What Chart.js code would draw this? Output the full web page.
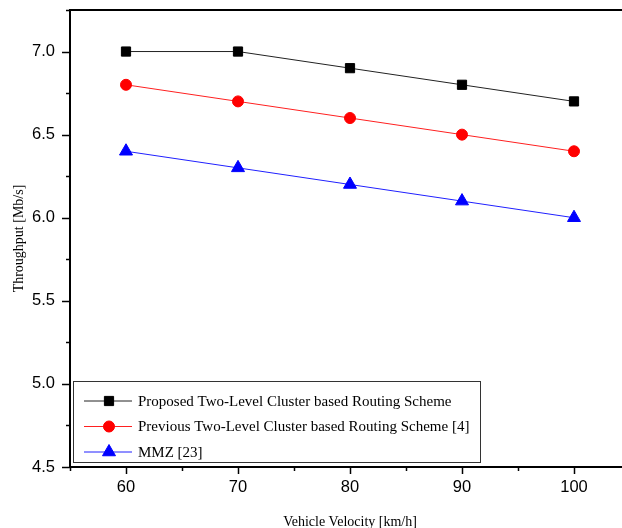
<!DOCTYPE html>
<html>
<head>
<meta charset="utf-8">
<script src="https://cdn.jsdelivr.net/npm/chart.js@4/dist/chart.umd.min.js"></script>
<style>
  html, body { margin: 0; padding: 0; background: #fff; overflow: hidden; }
  #wrap { width: 640px; height: 528px; }
</style>
</head>
<body>
<div id="wrap"><canvas id="chart" width="640" height="528"></canvas></div>
<script>
// Chart data
const velocities = [60, 70, 80, 90, 100];
const proposed = [7.0, 7.0, 6.9, 6.8, 6.7];
const previous = [6.8, 6.7, 6.6, 6.5, 6.4];
const mmz = [6.4, 6.3, 6.2, 6.1, 6.0];
const seriesNames = [
  "Proposed Two-Level Cluster based Routing Scheme",
  "Previous Two-Level Cluster based Routing Scheme [4]",
  "MMZ [23]"
];
const xMajorTicks = [60, 70, 80, 90, 100];
const yMajorTicks = [4.5, 5.0, 5.5, 6.0, 6.5, 7.0];

const tickFont = { family: "'Liberation Sans', Arial, sans-serif", size: 16.5 };
const titleFont = { family: "'Liberation Serif', 'Times New Roman', serif", size: 14 };

function toPoints(ys) {
  return velocities.map((v, i) => ({ x: v, y: ys[i] }));
}

// Outward tick marks (major + minor), top frame line
const axisTicksPlugin = {
  id: "axisTicks",
  afterDraw(chart) {
    const ctx = chart.ctx;
    const area = chart.chartArea;
    const xs = chart.scales.x;
    const ys = chart.scales.y;
    ctx.save();
    ctx.strokeStyle = "#000";
    ctx.lineWidth = 2;
    // top frame
    ctx.beginPath();
    ctx.moveTo(area.left - 1, area.top);
    ctx.lineTo(area.right + 1, area.top);
    ctx.stroke();
    ctx.lineWidth = 1.5;
    xs.ticks.forEach((t) => {
      const px = Math.round(xs.getPixelForValue(t.value)) + 0.5;
      const len = xMajorTicks.includes(t.value) ? 7 : 4;
      ctx.beginPath();
      ctx.moveTo(px, area.bottom);
      ctx.lineTo(px, area.bottom + len);
      ctx.stroke();
    });
    ys.ticks.forEach((t) => {
      const py = Math.round(ys.getPixelForValue(t.value)) + 0.5;
      const major = yMajorTicks.some((m) => Math.abs(m - t.value) < 1e-6);
      const len = major ? 8 : 4;
      ctx.beginPath();
      ctx.moveTo(area.left, py);
      ctx.lineTo(area.left - len, py);
      ctx.stroke();
    });
    ctx.restore();
  }
};

// Framed legend inside the plot area
const boxLegendPlugin = {
  id: "boxLegend",
  afterDraw(chart) {
    const ctx = chart.ctx;
    const area = chart.chartArea;
    const left = area.left + 3;
    const top = area.bottom - 86;
    const width = 407;
    const height = 81;
    ctx.save();
    ctx.fillStyle = "#fff";
    ctx.fillRect(left, top, width, height);
    ctx.strokeStyle = "#333";
    ctx.lineWidth = 1;
    ctx.strokeRect(left + 0.5, top + 0.5, width, height);
    chart.data.datasets.forEach((ds, i) => {
      const y = top + 20 + i * 25.5;
      ctx.strokeStyle = ds.borderColor;
      ctx.lineWidth = 1;
      ctx.beginPath();
      ctx.moveTo(left + 11, y);
      ctx.lineTo(left + 59, y);
      ctx.stroke();
      ctx.fillStyle = ds.pointBackgroundColor;
      ctx.strokeStyle = ds.pointBorderColor;
      Chart.helpers.drawPoint(ctx, {
        pointStyle: ds.pointStyle,
        radius: ds.pointRadius,
        rotation: 0,
        borderWidth: 1
      }, left + 36, y);
      ctx.fillStyle = "#000";
      ctx.font = "15px 'Liberation Serif', 'Times New Roman', serif";
      ctx.textBaseline = "middle";
      ctx.textAlign = "left";
      ctx.fillText(ds.label, left + 65, y + 1);
    });
    ctx.restore();
  }
};

new Chart(document.getElementById("chart"), {
  type: "line",
  data: {
    datasets: [
      {
        label: seriesNames[0],
        data: toPoints(proposed),
        borderColor: "#222",
        borderWidth: 1,
        pointStyle: "rect",
        pointRadius: 6.5,
        pointBackgroundColor: "#000",
        pointBorderColor: "#000"
      },
      {
        label: seriesNames[1],
        data: toPoints(previous),
        borderColor: "#ff2020",
        borderWidth: 1,
        pointStyle: "circle",
        pointRadius: 5.5,
        pointBackgroundColor: "#ff0000",
        pointBorderColor: "#ff0000"
      },
      {
        label: seriesNames[2],
        data: toPoints(mmz),
        borderColor: "#2020ff",
        borderWidth: 1,
        pointStyle: "triangle",
        pointRadius: 7.5,
        pointBackgroundColor: "#0000ff",
        pointBorderColor: "#0000ff"
      }
    ]
  },
  options: {
    responsive: false,
    animation: false,
    layout: { padding: { top: 10, right: 10, left: 0, bottom: 0 } },
    plugins: {
      legend: { display: false },
      tooltip: { enabled: false }
    },
    scales: {
      x: {
        type: "linear",
        min: 55,
        max: 105,
        afterFit(scale) {
          scale.height = 61;
          scale.paddingLeft = 0;
          scale.paddingRight = 0;
        },
        grid: { display: false, drawTicks: false },
        border: { display: true, color: "#000", width: 2 },
        ticks: {
          stepSize: 5,
          color: "#000",
          font: tickFont,
          padding: 11,
          maxRotation: 0,
          autoSkip: false,
          callback: (v) => (xMajorTicks.includes(v) ? String(v) : "")
        },
        title: {
          display: true,
          text: "Vehicle Velocity [km/h]",
          color: "#000",
          font: titleFont,
          padding: { top: 0, bottom: -3 }
        }
      },
      y: {
        min: 4.5,
        max: 7.25,
        afterFit(scale) {
          scale.width = 70;
          scale.paddingTop = 0;
          scale.paddingBottom = 0;
        },
        grid: { display: false, drawTicks: false },
        border: { display: true, color: "#000", width: 2 },
        ticks: {
          stepSize: 0.25,
          color: "#000",
          font: tickFont,
          padding: 15,
          autoSkip: false,
          callback: (v) =>
            yMajorTicks.some((m) => Math.abs(m - v) < 1e-6) ? v.toFixed(1) : ""
        },
        title: {
          display: true,
          text: "Throughput [Mb/s]",
          color: "#000",
          font: titleFont,
          padding: { top: 11, bottom: 0 }
        }
      }
    }
  },
  plugins: [axisTicksPlugin, boxLegendPlugin]
});
</script>
</body>
</html>
